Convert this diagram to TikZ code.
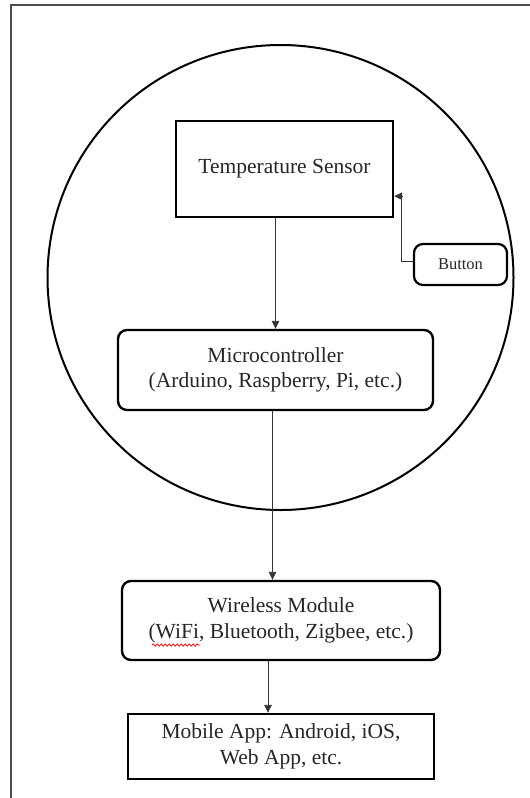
\documentclass[tikz,border=0pt]{standalone}
\usepackage{fontspec}
\setmainfont{Liberation Serif}
\usetikzlibrary{arrows.meta,calc,decorations.pathmorphing}
\begin{document}
\begin{tikzpicture}[x=1pt,y=-1pt,
  box/.style={draw=black,line width=2.4pt,align=center,inner sep=0pt,text=black!85,
    font=\fontsize{21.5}{25.5}\selectfont},
  rbox/.style={box,rounded corners=9pt},
  arr/.style={draw=black!80,line width=0.9pt,-{Triangle[length=8pt,width=7.5pt]}},
  frameline/.style={draw=black!70,line width=1.6pt}]
\useasboundingbox (0,0) rectangle (530,798);
\draw[frameline] (11,798) -- (11,5) -- (530,5);
\draw[line width=2pt] (280.5,277.5) ellipse [x radius=233pt, y radius=232.5pt];
\node[box,minimum width=217pt,minimum height=96pt] (temp) at (284.5,169) {Temperature Sensor};
\node[rbox,minimum width=315pt,minimum height=80pt] (micro) at (275.5,370) {Microcontroller\\(Arduino, Raspberry, Pi, etc.)};
\node[rbox,minimum width=318pt,minimum height=79pt] (wire) at (281,620.5) {Wireless Module\\(WiFi, Bluetooth, Zigbee, etc.)};
\node[box,minimum width=306pt,minimum height=65pt] (mobile) at (281,746.5) {Mobile App: Android, iOS,\\Web App, etc.};
\node[rbox,line width=2.2pt,minimum width=93pt,minimum height=41pt,font=\fontsize{16.5}{19}\selectfont] (button) at (460.5,264.5) {Button};
\draw[arr] (micro.north |- temp.south) -- (micro.north);
\coordinate (m1) at ($(micro.south)+(-3,0)$);
\draw[arr] (m1) -- (m1 |- wire.north);
\coordinate (w1) at ($(wire.south)+(-13,0)$);
\draw[arr] (w1) -- (w1 |- mobile.north);
\coordinate (t1) at ($(temp.south east)+(0,-22)$);
\draw[arr] ($(button.west)+(0,-3)$) -- ++(-11,0) |- (t1);
\draw[red,line width=0.7pt,decorate,decoration={snake,amplitude=1.2pt,segment length=4pt}] (152,645) -- (200,645);
\end{tikzpicture}
\end{document}
